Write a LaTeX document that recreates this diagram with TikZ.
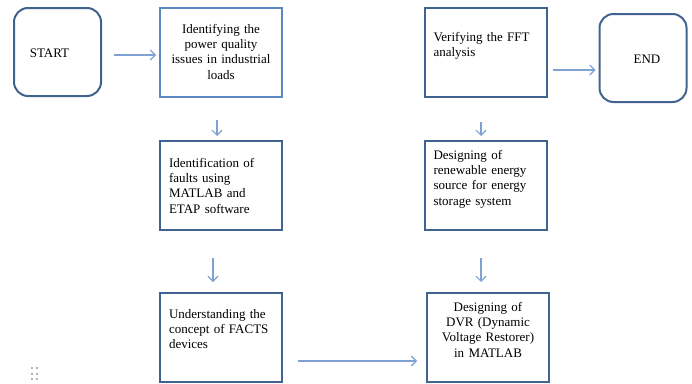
\documentclass[tikz,border=0pt]{standalone}
\usepackage{fontspec}
\setmainfont{Liberation Serif}
\usetikzlibrary{positioning,arrows.meta}

\definecolor{boxblue}{HTML}{41638F}
\definecolor{lightbox}{HTML}{5B87C2}
\definecolor{flowblue}{HTML}{7EA2D2}

\tikzset{
  stepbox/.style={draw=boxblue,line width=2pt,minimum width=122pt,minimum height=89pt,inner sep=0pt},
  endbox/.style={stepbox,rounded corners=14pt,minimum width=87pt,minimum height=88pt},
  steptext/.style={font=\fontsize{13}{15.3}\selectfont,inner sep=0pt,text width=104pt},
  flow/.style={draw=flowblue,line width=1.1pt,-{Straight Barb[length=5pt,width=10pt]}}
}

\begin{document}
\begin{tikzpicture}[x=1pt,y=-1pt]
  \useasboundingbox (0,0) rectangle (692,383);
  % left column
  \node[endbox] (start) at (57.5,52) {};
  \node[font=\fontsize{13}{15.3}\selectfont] (starttext) at (49.5,53) {START};
  \node[stepbox,draw=lightbox] (identify) at (221,52.5) {};
  \node[steptext,text width=112pt,align=center,below=17pt of identify.north] (identifytext)
    {Identifying the\\power quality\\issues in industrial\\loads};
  \node[stepbox] (faults) at (221,185.5) {};
  \node[steptext,align=left,below=18pt of faults.north] (faultstext)
    {Identification of\\faults using\\MATLAB and\\ETAP software};
  \node[stepbox] (facts) at (221,337.5) {};
  \node[steptext,align=left,below=17pt of facts.north] (factstext)
    {Understanding the\\concept of FACTS\\devices};
  % right column
  \node[stepbox] (dvr) at (488,337.5) {};
  \node[steptext,text width=112pt,align=center,below=10pt of dvr.north] (dvrtext)
    {Designing of\\DVR (Dynamic\\Voltage Restorer)\\in MATLAB};
  \node[stepbox] (renew) at (485.5,185.5) {};
  \node[steptext,align=left,below=10pt of renew.north] (renewtext)
    {Designing of\\renewable energy\\source for energy\\storage system};
  \node[stepbox] (verify) at (485.5,52.5) {};
  \node[steptext,align=left,below=25pt of verify.north] (verifytext)
    {Verifying the FFT\\analysis};
  \node[endbox] (end) at (643,58) {};
  \node[font=\fontsize{13}{15.3}\selectfont] (endtext) at (647,59) {END};

  % connectors
  \coordinate (a1) at (114,55);
  \coordinate (a2) at (217,120);
  \coordinate (a3) at (213,258);
  \coordinate (a4) at (298,361);
  \coordinate (a5) at (481,258);
  \coordinate (a6) at (481,122);
  \coordinate (a7) at (553,70);
  \draw[flow] (a1) -- ([xshift=-3pt]a1 -| identify.west);
  \draw[flow] (a2) -- ([yshift=4pt]a2 |- faults.north);
  \draw[flow] (a3) -- ([yshift=10pt]a3 |- facts.north);
  \draw[flow] (a4) -- ([xshift=-9pt]a4 -| dvr.west);
  \draw[flow] (a5) -- ([yshift=10pt]a5 |- dvr.north);
  \draw[flow] (a6) -- ([yshift=4pt]a6 |- renew.north);
  \draw[flow] (a7) -- ([xshift=-3pt]a7 -| end.west);

  % drag handle
  \foreach \px in {32,37}
    \foreach \py in {368,374,379}
      \fill[gray!60] (\px-1.1,\py-1.1) rectangle (\px+1.1,\py+1.1);
\end{tikzpicture}
\end{document}
